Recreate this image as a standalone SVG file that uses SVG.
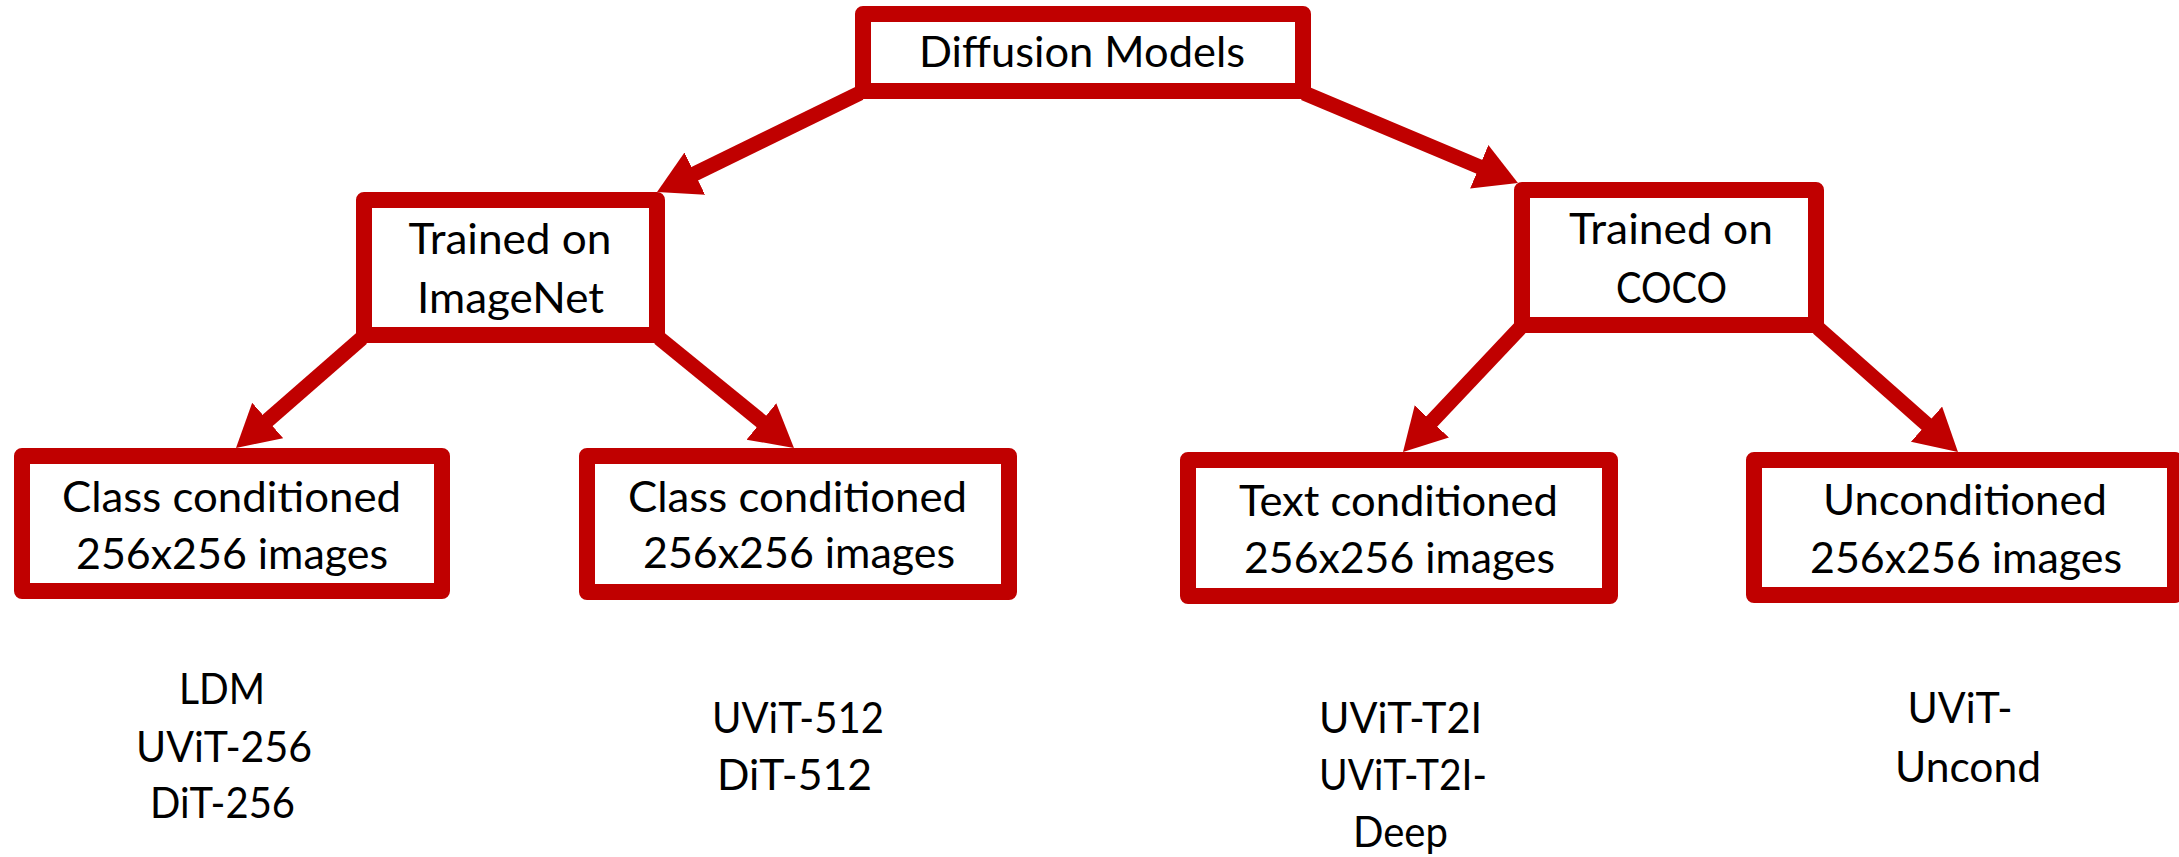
<svg xmlns="http://www.w3.org/2000/svg" width="2179" height="857" viewBox="0 0 2179 857">
<style>
.box{fill:#ffffff;stroke:#C00000;stroke-width:16;stroke-linejoin:round}
.t{font-family:"Lato","Liberation Sans",sans-serif;font-size:42px;fill:#000000;text-anchor:middle}
.edge{stroke:#C00000;stroke-width:15;fill:none;marker-end:url(#ah)}
</style>
<defs>
<marker id="ah" markerUnits="userSpaceOnUse" markerWidth="44" markerHeight="48" refX="12" refY="23.5" orient="auto">
<path d="M0,0 L42,23.5 L0,47 z" fill="#C00000"/>
</marker>
</defs>
<rect width="2179" height="857" fill="#ffffff"/>
<g id="connectors">
<line class="edge" x1="860" y1="93" x2="684" y2="178.9"/>
<line class="edge" x1="1304" y1="93" x2="1490.3" y2="171.4"/>
<line class="edge" x1="362" y1="338" x2="258.6" y2="428.3"/>
<line class="edge" x1="659" y1="338" x2="770.7" y2="429"/>
<line class="edge" x1="1520" y1="328" x2="1423.6" y2="430.2"/>
<line class="edge" x1="1818" y1="328" x2="1935.5" y2="432.1"/>
</g>
<g id="root">
<rect class="box" x="863" y="14" width="440" height="77"/>
<text class="t" x="1082" y="67" textLength="326" lengthAdjust="spacingAndGlyphs">Diffusion Models</text>
</g>
<g id="imagenet">
<rect class="box" x="364" y="200" width="293" height="135"/>
<text class="t" x="510" y="254" textLength="203" lengthAdjust="spacingAndGlyphs">Trained on</text>
<text class="t" x="510.5" y="313" textLength="187" lengthAdjust="spacingAndGlyphs">ImageNet</text>
</g>
<g id="coco">
<rect class="box" x="1522" y="190" width="294" height="135"/>
<text class="t" x="1671" y="244" textLength="204" lengthAdjust="spacingAndGlyphs">Trained on</text>
<text class="t" x="1671.5" y="303" textLength="111" lengthAdjust="spacingAndGlyphs">COCO</text>
</g>
<g id="class1">
<rect class="box" x="22" y="456" width="420" height="135"/>
<text class="t" x="231.5" y="512" textLength="339" lengthAdjust="spacingAndGlyphs">Class conditioned</text>
<text class="t" x="232" y="569" textLength="312" lengthAdjust="spacingAndGlyphs">256x256 images</text>
</g>
<g id="class2">
<rect class="box" x="587" y="456" width="422" height="136"/>
<text class="t" x="797.5" y="512" textLength="339" lengthAdjust="spacingAndGlyphs">Class conditioned</text>
<text class="t" x="799" y="568" textLength="312" lengthAdjust="spacingAndGlyphs">256x256 images</text>
</g>
<g id="text">
<rect class="box" x="1188" y="460" width="422" height="136"/>
<text class="t" x="1398.5" y="516" textLength="319" lengthAdjust="spacingAndGlyphs">Text conditioned</text>
<text class="t" x="1399.5" y="573" textLength="311" lengthAdjust="spacingAndGlyphs">256x256 images</text>
</g>
<g id="uncond">
<rect class="box" x="1754" y="460" width="421" height="135"/>
<text class="t" x="1965" y="515" textLength="284" lengthAdjust="spacingAndGlyphs">Unconditioned</text>
<text class="t" x="1966" y="573" textLength="312" lengthAdjust="spacingAndGlyphs">256x256 images</text>
</g>
<g id="models1">
<text class="t" x="222" y="704" textLength="86" lengthAdjust="spacingAndGlyphs">LDM</text>
<text class="t" x="224" y="762" textLength="176" lengthAdjust="spacingAndGlyphs">UViT-256</text>
<text class="t" x="222.5" y="818" textLength="145" lengthAdjust="spacingAndGlyphs">DiT-256</text>
</g>
<g id="models2">
<text class="t" x="798" y="733" textLength="172" lengthAdjust="spacingAndGlyphs">UViT-512</text>
<text class="t" x="794.5" y="790" textLength="155" lengthAdjust="spacingAndGlyphs">DiT-512</text>
</g>
<g id="models3">
<text class="t" x="1400.5" y="733" textLength="163" lengthAdjust="spacingAndGlyphs">UViT-T2I</text>
<text class="t" x="1403" y="790" textLength="168" lengthAdjust="spacingAndGlyphs">UViT-T2I-</text>
<text class="t" x="1400.5" y="847" textLength="95" lengthAdjust="spacingAndGlyphs">Deep</text>
</g>
<g id="models4">
<text class="t" x="1960" y="723" textLength="105" lengthAdjust="spacingAndGlyphs">UViT-</text>
<text class="t" x="1968" y="782" textLength="146" lengthAdjust="spacingAndGlyphs">Uncond</text>
</g>
</svg>
